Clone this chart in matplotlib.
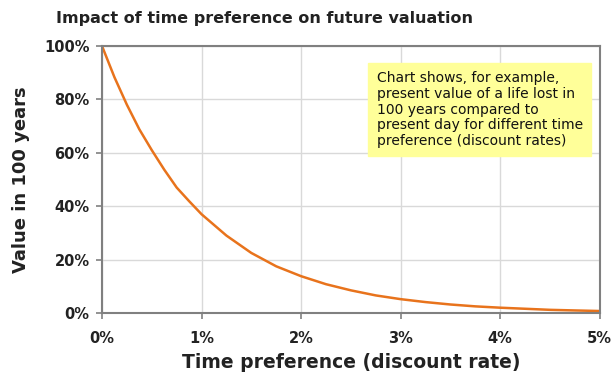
import matplotlib.pyplot as plt
from matplotlib.ticker import FuncFormatter

# discount rate (%) and value of a future life after 100 years (fraction)
rates = [0.0, 0.125, 0.25, 0.375, 0.5, 0.625, 0.75, 0.875, 1.0, 1.25, 1.5, 1.75, 2.0,
         2.25, 2.5, 2.75, 3.0, 3.25, 3.5, 3.75, 4.0, 4.25, 4.5, 4.75, 5.0]
values = [1.00, 0.883, 0.78, 0.688, 0.61, 0.537, 0.47, 0.419, 0.37, 0.29, 0.225, 0.175, 0.138,
          0.108, 0.085, 0.066, 0.052, 0.041, 0.032, 0.025, 0.020, 0.016, 0.012, 0.0097, 0.0076]

x_ticks = [0, 1, 2, 3, 4, 5]
y_ticks = [0, 0.2, 0.4, 0.6, 0.8, 1.0]

title = "Impact of time preference on future valuation"
note = ("Chart shows, for example,\npresent value of a life lost in\n100 years compared to\n"
        "present day for different time\npreference (discount rates)")

fig = plt.figure(figsize=(6.16, 3.74), dpi=100)
ax = fig.add_axes([0.1656, 0.163, 0.808, 0.714])

ax.plot(rates, values, color="#e8731c", lw=1.8, solid_joinstyle="round")

ax.set_xlim(0, 5)
ax.set_ylim(0, 1)
ax.set_xticks(x_ticks)
ax.set_yticks(y_ticks)
ax.xaxis.set_major_formatter(FuncFormatter(lambda v, _: f"{v:.0f}%"))
ax.yaxis.set_major_formatter(FuncFormatter(lambda v, _: f"{v * 100:.0f}%"))
ax.grid(True, color="#d9d9d9", lw=1)
ax.set_axisbelow(True)

for s in ax.spines.values():
    s.set_color("#808080")
    s.set_linewidth(1.5)
ax.tick_params(colors="#808080", direction="out", length=4, width=1.2,
               labelcolor="#222222", labelsize=10.5)
for lab in ax.get_xticklabels() + ax.get_yticklabels():
    lab.set_fontweight("bold")
ax.tick_params(axis="x", pad=9)
ax.tick_params(axis="y", pad=5)

ax.set_xlabel("Time preference (discount rate)", fontsize=13.5, fontweight="bold",
              color="#222222", labelpad=5)
ax.set_ylabel("Value in 100 years", fontsize=13, fontweight="bold",
              color="#222222", labelpad=10)
fig.text(0.43, 0.95, title, fontsize=11.5, fontweight="bold", color="#222222",
         ha="center", va="center")

ax.text(0.552, 0.905, note, transform=ax.transAxes, fontsize=10, va="top", ha="left",
        linespacing=1.15, color="#111111",
        bbox=dict(boxstyle="square,pad=0.6", fc="#ffff99", ec="#ffff99"))

fig.savefig("out.png", dpi=100)
